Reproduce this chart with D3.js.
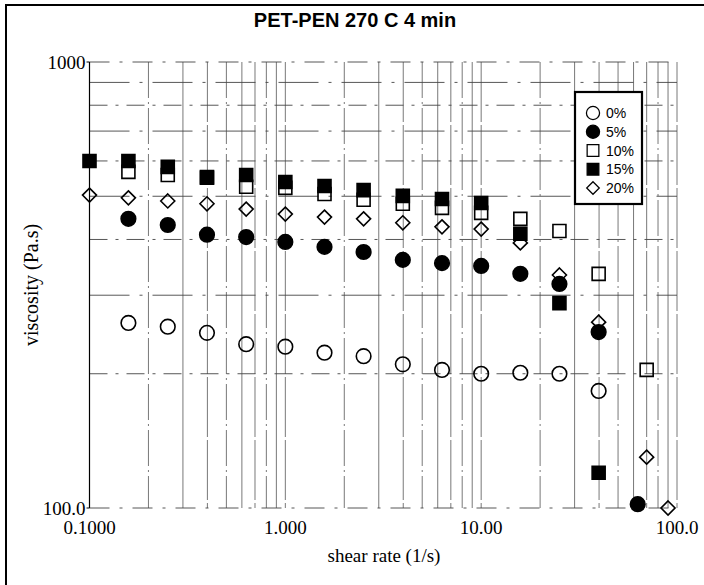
<!DOCTYPE html>
<html>
<head>
<meta charset="utf-8">
<script src="https://cdn.jsdelivr.net/npm/d3@7"></script>
<style>
  body { margin: 0; background: #fff; }
  svg { display: block; }
</style>
</head>
<body>
<div id="chart"></div>
<script>
// shear rates (1/s) shared by the measured points
const rates = [0.1, 0.158, 0.251, 0.398, 0.631, 1.0, 1.585, 2.51, 3.98, 6.31, 10.0, 15.85, 25.1, 39.8];

// viscosity (Pa.s) for each blend, null where no point was taken
const visc0  = [null, 260, 255, 247, 233, 230, 223, 219, 210, 204, 200, 201, 200, 183];
const visc5  = [null, 445, 431, 410, 405, 395, 385, 375, 360, 354, 349, 335, 318, 248];
const visc10 = [null, 567, 558, 550, 525, 522, 506, 491, 481, 471, 459, 445, 418, 335];
const visc15 = [600, 600, 582, 552, 558, 538, 527, 516, 501, 493, 483, 412, 288, 120];
const visc20 = [503, 496, 488, 481, 468, 456, 449, 445, 436, 427, 422, 393, 333, 261];

// extra high-rate points
const tailRates5  = [63];   const tail5  = [102];
const tailRates10 = [70];   const tail10 = [204];
const tailRates20 = [70, 90]; const tail20 = [130, 100];

const labels = ["0%", "5%", "10%", "15%", "20%"];
const xTicks = [0.1, 1, 10, 100];
const xTickText = ["0.1000", "1.000", "10.00", "100.0"];
const yTicks = [100, 1000];
const yTickText = ["100.0", "1000"];
const yGrid = [200, 300, 400, 500, 600, 700, 800, 900];

const W = 704, H = 585;
const svg = d3.select("#chart").append("svg").attr("width", W).attr("height", H);

const x = d3.scaleLog().domain([0.1, 100]).range([89.5, 677]);
const y = d3.scaleLog().domain([100, 1000]).range([508, 62]);

// frame
svg.append("path").attr("d", `M6,585 V5 H704`)
  .attr("fill", "none").attr("stroke", "#000").attr("stroke-width", 2);

// title
svg.append("text")
  .attr("x", 355).attr("y", 27)
  .attr("text-anchor", "middle")
  .attr("font-family", "Liberation Sans, Arial, sans-serif")
  .attr("font-weight", "bold").attr("font-size", 20)
  .text("PET-PEN 270 C 4 min");

// vertical grid on every log tick
const vLines = [];
[0.1, 1, 10].forEach(d => { for (let k = 1; k <= 9; k++) vLines.push(d * k); });
vLines.push(100);
svg.append("g").selectAll("line").data(vLines.filter(v => v > 0.1)).enter().append("line")
  .attr("x1", d => x(d)).attr("x2", d => x(d))
  .attr("y1", y(1000)).attr("y2", y(100))
  .attr("stroke", "#555").attr("stroke-width", 0.8)
  .attr("stroke-dasharray", (d, i) => i % 3 === 0 ? "36,4,2,4" : (i % 3 === 1 ? null : "60,3"));

// horizontal grid
svg.append("g").selectAll("line").data(yGrid).enter().append("line")
  .attr("x1", x(0.1)).attr("x2", x(100))
  .attr("y1", d => y(d)).attr("y2", d => y(d))
  .attr("stroke", "#444").attr("stroke-width", 0.9)
  .attr("stroke-dasharray", (d, i) => i % 2 ? "40,10,3,10" : "18,8,3,8");

// top and bottom dash-dot edges
svg.append("g").selectAll("line").data([1000, 100]).enter().append("line")
  .attr("x1", x(0.1)).attr("x2", x(100))
  .attr("y1", d => y(d)).attr("y2", d => y(d))
  .attr("stroke", "#444").attr("stroke-width", 0.9)
  .attr("stroke-dasharray", "20,10,3,10");

// y axis line with ticks
svg.append("line").attr("x1", x(0.1)).attr("x2", x(0.1)).attr("y1", y(1000)).attr("y2", y(100))
  .attr("stroke", "#000").attr("stroke-width", 1.2);
svg.append("g").selectAll("line").data(yTicks).enter().append("line")
  .attr("x1", x(0.1) - 3).attr("x2", x(0.1))
  .attr("y1", d => y(d)).attr("y2", d => y(d))
  .attr("stroke", "#000");

const serif = "Liberation Serif, Times New Roman, serif";
svg.append("g").selectAll("text").data(yTicks).enter().append("text")
  .attr("x", x(0.1) - 4).attr("y", d => y(d) + 7)
  .attr("text-anchor", "end")
  .attr("font-family", serif).attr("font-size", 19)
  .text((d, i) => yTickText[i]);

svg.append("g").selectAll("text").data(xTicks).enter().append("text")
  .attr("x", d => x(d)).attr("y", 534)
  .attr("text-anchor", "middle")
  .attr("font-family", serif).attr("font-size", 19)
  .text((d, i) => xTickText[i]);

svg.append("text")
  .attr("x", 384).attr("y", 562)
  .attr("text-anchor", "middle")
  .attr("font-family", serif).attr("font-size", 19)
  .text("shear rate (1/s)");

svg.append("text")
  .attr("transform", `translate(38,${285}) rotate(-90)`)
  .attr("text-anchor", "middle")
  .attr("font-family", serif).attr("font-size", 20)
  .text("viscosity (Pa.s)");

// markers
const pts = (xs, ys) => xs.map((r, i) => ({ r, v: ys[i] })).filter(d => d.v != null);
const series = [
  { key: "20%", data: pts(rates.concat(tailRates20), visc20.concat(tail20)), shape: "diamond", fill: "none" },
  { key: "10%", data: pts(rates.concat(tailRates10), visc10.concat(tail10)), shape: "square", fill: "none" },
  { key: "0%",  data: pts(rates, visc0), shape: "circle", fill: "none" },
  { key: "5%",  data: pts(rates.concat(tailRates5), visc5.concat(tail5)), shape: "circle", fill: "#000" },
  { key: "15%", data: pts(rates, visc15), shape: "square", fill: "#000" }
];

const symPath = shape => {
  if (shape === "diamond") return "M0,-7L7,0L0,7L-7,0Z";
  if (shape === "square") return "M-6.5,-6.5H6.5V6.5H-6.5Z";
  return d3.symbol(d3.symbolCircle, Math.PI * 7.3 * 7.3)();
};

series.forEach(s => {
  svg.append("g").selectAll("path").data(s.data).enter().append("path")
    .attr("d", symPath(s.shape))
    .attr("transform", d => `translate(${x(d.r)},${y(d.v)})`)
    .attr("fill", s.fill)
    .attr("stroke", "#000").attr("stroke-width", 1.6);
});

// legend
const lg = svg.append("g").attr("transform", "translate(575,92)");
lg.append("rect").attr("width", 67).attr("height", 112)
  .attr("fill", "#fff").attr("stroke", "#000").attr("stroke-width", 2.2);
const legendItems = [
  { shape: "circle", fill: "none" },
  { shape: "circle", fill: "#000" },
  { shape: "square", fill: "none" },
  { shape: "square", fill: "#000" },
  { shape: "diamond", fill: "none" }
];
const ly = d3.scaleLinear().domain([0, 4]).range([21, 96]);
legendItems.forEach((it, i) => {
  lg.append("path")
    .attr("d", symPath(it.shape))
    .attr("transform", `translate(18,${ly(i)}) scale(0.9)`)
    .attr("fill", it.fill).attr("stroke", "#000").attr("stroke-width", 1.4);
  lg.append("text")
    .attr("x", 31).attr("y", ly(i) + 5)
    .attr("font-family", "Liberation Sans, Arial, sans-serif")
    .attr("font-size", 14)
    .text(labels[i]);
});
</script>
</body>
</html>
